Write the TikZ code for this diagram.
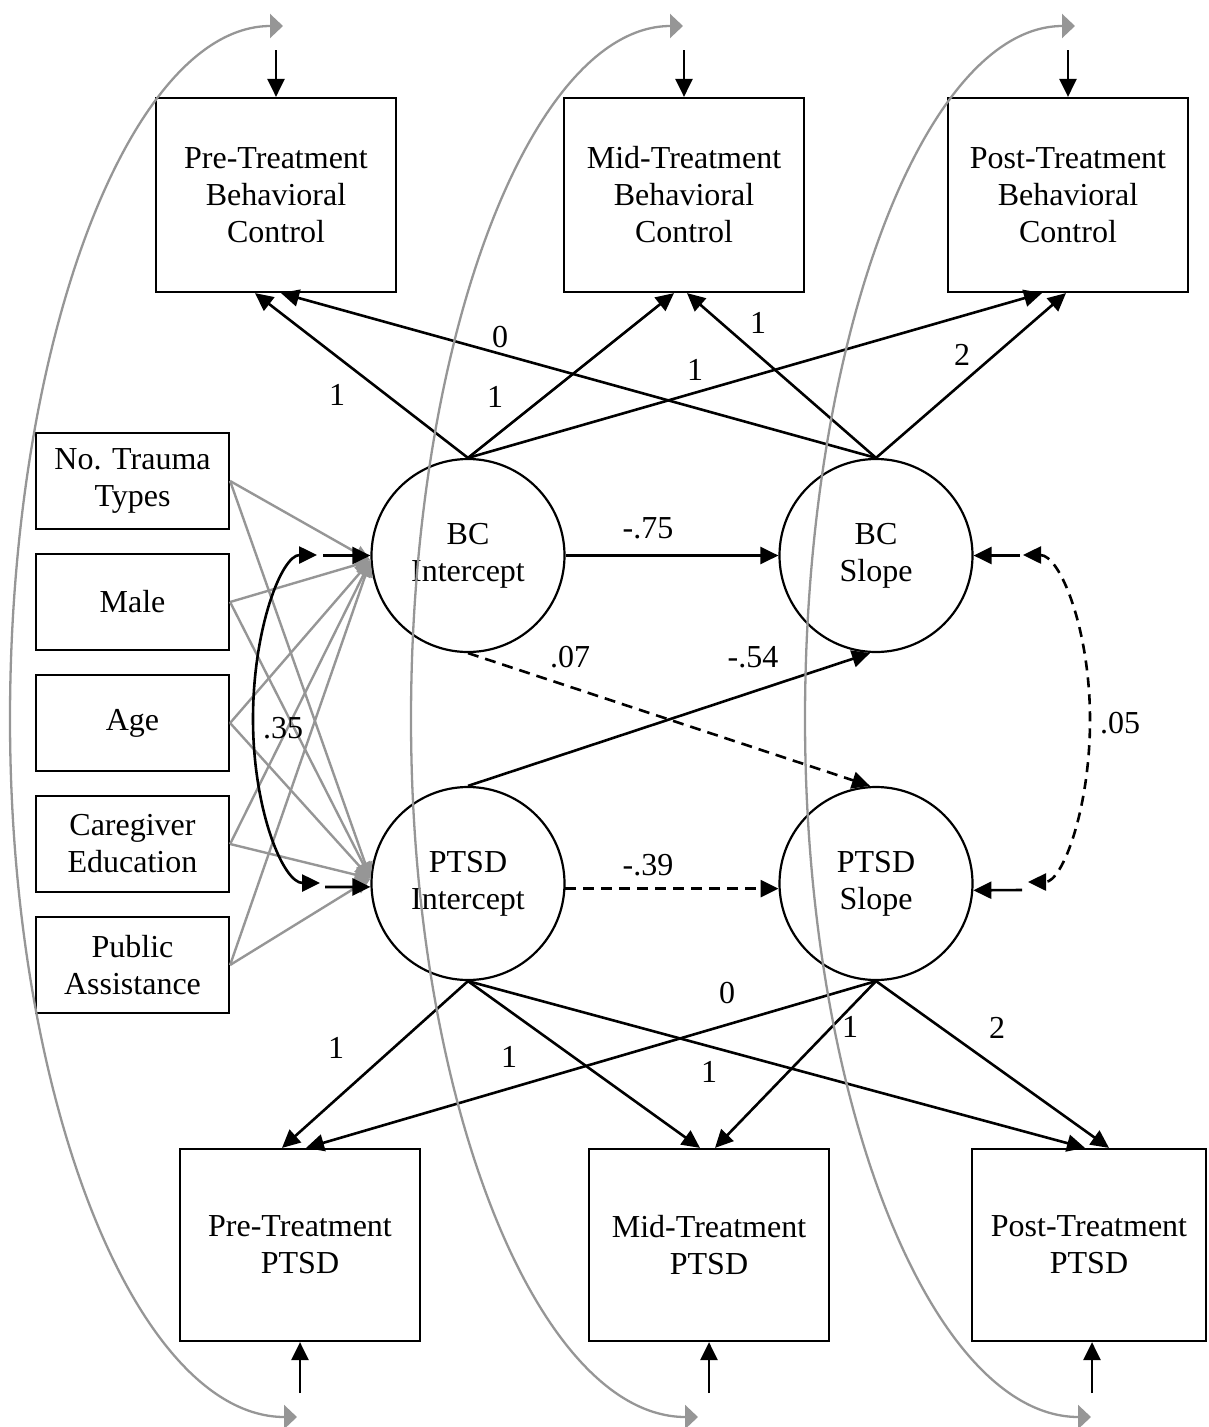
\documentclass[tikz,border=0pt]{standalone}
\usepackage{fontspec}
\setmainfont{Liberation Serif}
\usetikzlibrary{arrows.meta}
\definecolor{lgray}{RGB}{150,150,150}
\newcommand\myfs{\fontsize{32}{37}\selectfont}
\begin{document}
\begin{tikzpicture}[x=1pt,y=1pt,
  every node/.style={font=\myfs},
  bbox/.style={draw,line width=2.2pt,minimum width=240pt,minimum height=194pt,align=center,inner sep=0pt},
  cbox/.style={draw,line width=2.2pt,minimum width=193pt,minimum height=96pt,align=center,inner sep=0pt},
  lat/.style={draw,circle,line width=2.2pt,minimum size=193pt,align=center,inner sep=0pt},
  arr/.style={line width=2.6pt,-{Triangle[length=18pt,width=17pt]}},
  darr/.style={arr,dash pattern=on 11pt off 7pt},
  garr/.style={line width=2.4pt,lgray,-{Triangle[length=16pt,width=15pt]}},
  gcurve/.style={line width=2.3pt,lgray,{Triangle[length=13pt,width=24pt]}-{Triangle[length=13pt,width=24pt]}},
  lbl/.style={inner sep=0pt}
]
\useasboundingbox (0,0) rectangle (1208,-1427);

% observed boxes
\node[bbox] (preBC) at (276,-195) {Pre-Treatment\\Behavioral\\Control};
\node[bbox] (midBC) at (684,-195) {Mid-Treatment\\Behavioral\\Control};
\node[bbox] (postBC) at (1068,-195) {Post-Treatment\\Behavioral\\Control};
\node[bbox,minimum height=192pt] (prePT) at (300,-1245) {Pre-Treatment\\PTSD};
\node[bbox,minimum height=192pt] (midPT) at (709,-1245) {Mid-Treatment\\PTSD};
\node[bbox,minimum height=192pt,minimum width=234pt] (postPT) at (1089,-1245) {Post-Treatment\\PTSD};

% covariates
\node[cbox] (trauma) at (132.5,-481) {No. Trauma\\Types};
\node[cbox] (male) at (132.5,-602) {Male};
\node[cbox] (age) at (132.5,-723) {Age};
\node[cbox] (care) at (132.5,-844) {Caregiver\\Education};
\node[cbox] (pub) at (132.5,-965) {Public\\Assistance};

% latent
\node[lat] (bci) at (468,-555.5) {BC\\Intercept};
\node[lat] (bcs) at (876,-555.5) {BC\\Slope};
\node[lat] (pti) at (468,-883.5) {PTSD\\Intercept};
\node[lat] (pts) at (876,-883.5) {PTSD\\Slope};

% covariate paths
\foreach \n in {trauma,male,age,care,pub}{
  \draw[garr] (\n.east) -- (bci.183);
  \draw[garr] (\n.east) -- (pti.177);
}

% loadings BC
\draw[arr] (bci.north) -- ([xshift=-21pt]preBC.south);
\draw[arr] (bci.north) -- ([xshift=-10pt]midBC.south);
\draw[arr] (bci.north) -- ([xshift=-26pt]postBC.south);
\draw[arr] (bcs.north) -- ([xshift=5pt]preBC.south);
\draw[arr] (bcs.north) -- ([xshift=3pt]midBC.south);
\draw[arr] (bcs.north) -- ([xshift=-2pt]postBC.south);
\node[lbl] (l1) at (337,-395) {1};
\node[lbl] (l2) at (500,-337) {0};
\node[lbl] (l3) at (495,-397) {1};
\node[lbl] (l4) at (695,-370) {1};
\node[lbl] (l5) at (758,-323) {1};
\node[lbl] (l6) at (962,-355) {2};

% loadings PTSD
\draw[arr] (pti.south) -- ([xshift=-18pt]prePT.north);
\draw[arr] (pti.south) -- ([xshift=-9pt]midPT.north);
\draw[arr] (pti.south) -- ([xshift=-4pt]postPT.north);
\draw[arr] (pts.south) -- ([xshift=6pt]prePT.north);
\draw[arr] (pts.south) -- ([xshift=6pt]midPT.north);
\draw[arr] (pts.south) -- ([xshift=20pt]postPT.north);
\node[lbl] (m1) at (336,-1048) {1};
\node[lbl] (m2) at (509,-1057) {1};
\node[lbl] (m3) at (727,-993) {0};
\node[lbl] (m4) at (709,-1072) {1};
\node[lbl] (m5) at (850,-1027) {1};
\node[lbl] (m6) at (997,-1028) {2};

% structural paths
\draw[arr] (bci.east) -- (bcs.west);
\draw[darr] (bci.south) -- ([xshift=-6pt]pts.north);
\draw[arr] (pti.north) -- ([xshift=-6pt]bcs.south);
\draw[darr] (pti.-3) -- (pts.183);
\node[lbl] (s1) at (648,-528) {-.75};
\node[lbl] (s2) at (570,-657) {.07};
\node[lbl] (s3) at (753,-657) {-.54};
\node[lbl] (s4) at (648,-865) {-.39};

% residual arrows
\coordinate (rpreBC) at (276,-50);
\coordinate (rmidBC) at (684,-50);
\coordinate (rpostBC) at (1068,-50);
\draw[arr] (rpreBC) -- (preBC.north);
\draw[arr] (rmidBC) -- (midBC.north);
\draw[arr] (rpostBC) -- (postBC.north);
\coordinate (rprePT) at (300,-1393);
\coordinate (rmidPT) at (709,-1393);
\coordinate (rpostPT) at (1092,-1393);
\draw[arr] (rprePT) -- (prePT.south);
\draw[arr] (rmidPT) -- (midPT.south);
\draw[arr] (rpostPT) -- ([xshift=3pt]postPT.south);

\coordinate (rbci) at (323,-555.5);
\coordinate (rpti) at (325,-887);
\coordinate (rbcs) at (1020,-555.5);
\coordinate (rpts) at (1022,-890);
\draw[arr] (rbci) -- (bci.west);
\draw[arr] (rpti) -- (pti.182);
\draw[arr] (rbcs) -- (bcs.east);
\draw[arr] (rpts) -- (pts.-4);

% covariances
\coordinate (c35a) at (317,-555);
\draw[line width=2.6pt,{Triangle[length=18pt,width=17pt]}-{Triangle[length=18pt,width=17pt]}]
  (c35a) arc[start angle=90,end angle=180,x radius=64,y radius=164]
         arc[start angle=180,end angle=270,x radius=67,y radius=164];
\node[lbl] (c35) at (283,-728) {.35};
\coordinate (c05a) at (1023,-555);
\draw[line width=2.6pt,dash pattern=on 10pt off 7pt,{Triangle[length=18pt,width=17pt]}-{Triangle[length=18pt,width=17pt]}]
  (c05a) arc[start angle=90,end angle=0,x radius=67,y radius=165]
         arc[start angle=0,end angle=-90,x radius=62,y radius=162];
\node[lbl] (c05) at (1120,-723) {.05};

% residual covariances
\coordinate (g1) at (283,-26);
\coordinate (g2) at (683,-26);
\coordinate (g3) at (1075,-26);
\draw[gcurve] (g1) arc[start angle=90,end angle=180,x radius=273,y radius=693]
                   arc[start angle=180,end angle=270,x radius=287,y radius=698];
\draw[gcurve] (g2) arc[start angle=90,end angle=180,x radius=272,y radius=693]
                   arc[start angle=180,end angle=270,x radius=287,y radius=698];
\draw[gcurve] (g3) arc[start angle=90,end angle=180,x radius=270,y radius=693]
                   arc[start angle=180,end angle=270,x radius=286,y radius=698];
\end{tikzpicture}
\end{document}
